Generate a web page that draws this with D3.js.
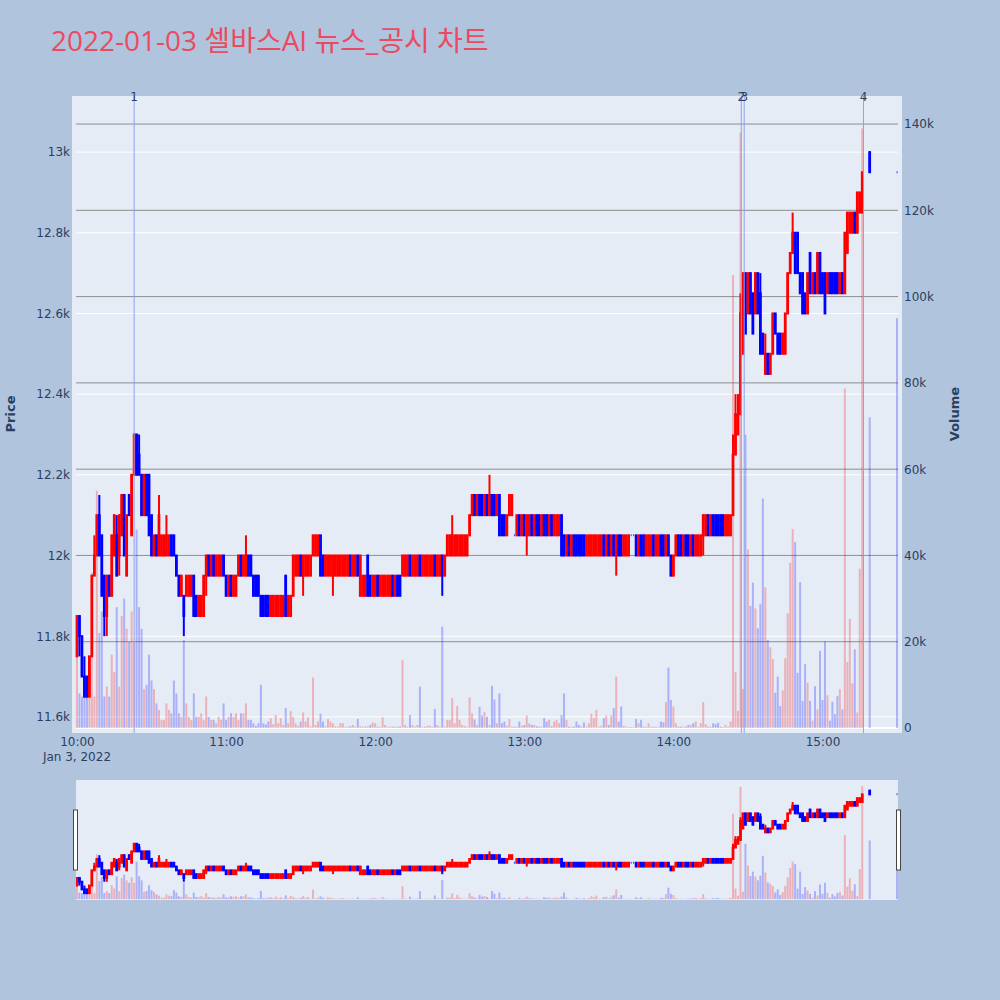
<!DOCTYPE html>
<html>
<head>
<meta charset="utf-8">
<script src="https://cdn.jsdelivr.net/npm/d3@7"></script>
<style>
  body { margin: 0; background: #B0C4DE; }
  svg { display: block; }
</style>
</head>
<body>
<svg id="chart" width="1000" height="1000"></svg>
<script>
// 1-minute candles, 2022-01-03
const times = [
"10:00","10:01","10:02","10:03","10:04","10:05","10:06","10:07","10:08","10:09",
"10:10","10:11","10:12","10:13","10:14","10:15","10:16","10:17","10:18","10:19",
"10:20","10:21","10:22","10:23","10:24","10:25","10:26","10:27","10:28","10:29",
"10:30","10:31","10:32","10:33","10:34","10:35","10:36","10:37","10:38","10:39",
"10:40","10:41","10:42","10:43","10:44","10:45","10:46","10:47","10:48","10:49",
"10:50","10:51","10:52","10:53","10:54","10:55","10:56","10:57","10:58","10:59",
"11:00","11:01","11:02","11:03","11:04","11:05","11:06","11:07","11:08","11:09",
"11:10","11:11","11:12","11:13","11:14","11:15","11:16","11:17","11:18","11:19",
"11:20","11:21","11:22","11:23","11:24","11:25","11:26","11:27","11:28","11:29",
"11:30","11:31","11:32","11:33","11:34","11:35","11:36","11:37","11:38","11:39",
"11:40","11:41","11:42","11:43","11:44","11:45","11:46","11:47","11:48","11:49",
"11:50","11:51","11:52","11:53","11:54","11:55","11:56","11:57","11:58","11:59",
"12:00","12:01","12:02","12:03","12:04","12:05","12:06","12:07","12:08","12:09",
"12:10","12:11","12:12","12:13","12:14","12:15","12:16","12:17","12:18","12:19",
"12:20","12:21","12:22","12:23","12:24","12:25","12:26","12:27","12:28","12:29",
"12:30","12:31","12:32","12:33","12:34","12:35","12:36","12:37","12:38","12:39",
"12:40","12:41","12:42","12:43","12:44","12:45","12:46","12:47","12:48","12:49",
"12:50","12:51","12:52","12:53","12:54","12:55","12:56","12:57","12:58","12:59",
"13:00","13:01","13:02","13:03","13:04","13:05","13:06","13:07","13:08","13:09",
"13:10","13:11","13:12","13:13","13:14","13:15","13:16","13:17","13:18","13:19",
"13:20","13:21","13:22","13:23","13:24","13:25","13:26","13:27","13:28","13:29",
"13:30","13:31","13:32","13:33","13:34","13:35","13:36","13:37","13:38","13:39",
"13:40","13:41","13:42","13:43","13:44","13:45","13:46","13:47","13:48","13:49",
"13:50","13:51","13:52","13:53","13:54","13:55","13:56","13:57","13:58","13:59",
"14:00","14:01","14:02","14:03","14:04","14:05","14:06","14:07","14:08","14:09",
"14:10","14:11","14:12","14:13","14:14","14:15","14:16","14:17","14:18","14:19",
"14:20","14:21","14:22","14:23","14:24","14:25","14:26","14:27","14:28","14:29",
"14:30","14:31","14:32","14:33","14:34","14:35","14:36","14:37","14:38","14:39",
"14:40","14:41","14:42","14:43","14:44","14:45","14:46","14:47","14:48","14:49",
"14:50","14:51","14:52","14:53","14:54","14:55","14:56","14:57","14:58","14:59",
"15:00","15:01","15:02","15:03","15:04","15:05","15:06","15:07","15:08","15:09",
"15:10","15:11","15:12","15:13","15:14","15:15","15:16","15:19","15:30"
];

const opens = [
11750,11850,11800,11700,11700,11650,11750,11950,12000,12100,
12050,11950,11850,11950,11900,12000,12050,12000,12050,12150,
11950,12150,12050,12200,12300,12250,12200,12100,12200,12200,
12100,12000,12050,12000,12000,12000,12000,12000,12050,12050,
12000,11950,11900,11900,11900,11900,11900,11950,11900,11850,
11850,11850,11950,12000,11950,12000,11950,11950,11950,12000,
11950,11900,11950,11900,11900,11950,12000,11950,11950,12000,
12000,11950,11950,11950,11900,11900,11900,11900,11850,11850,
11850,11850,11850,11850,11950,11850,11850,11900,11950,11950,
12000,11950,11950,11950,11950,12000,12000,12000,12050,12000,
11950,11950,11950,11950,11950,11950,11950,11950,11950,11950,
12000,11950,11950,12000,11900,11900,11900,12000,11950,11900,
11900,11950,11900,11900,11900,11900,11900,11950,11900,11950,
11950,11950,11950,11950,12000,11950,11950,11950,12000,11950,
11950,11950,11950,11950,12000,11950,11950,12000,11950,12000,
12000,12000,12000,12000,12000,12000,12000,12000,12050,12100,
12150,12100,12150,12150,12100,12150,12100,12150,12150,12100,
12150,12100,12100,12050,12100,12100,12050,12050,12100,12050,
12100,12050,12050,12100,12050,12100,12100,12050,12100,12100,
12050,12100,12050,12050,12050,12100,12050,12000,12050,12000,
12050,12050,12050,12050,12050,12000,12000,12000,12000,12000,
12000,12000,12050,12000,12050,12000,12050,12000,12050,12050,
12000,12000,12000,12050,12050,12050,12000,12050,12050,12000,
12000,12000,12050,12000,12000,12050,12050,12000,12050,12000,
11950,12000,12050,12050,12000,12050,12050,12000,12050,12000,
12000,12000,12050,12050,12100,12050,12100,12100,12100,12100,
12100,12050,12050,12050,12100,12250,12300,12350,12500,12700,
12600,12700,12650,12600,12700,12650,12550,12450,12500,12450,
12500,12600,12550,12550,12500,12500,12600,12700,12750,12800,
12800,12700,12700,12650,12600,12750,12650,12700,12650,12750,
12700,12700,12650,12700,12700,12700,12700,12650,12700,12650,
12750,12800,12800,12850,12800,12850,12850,13000,12950
];

const highs = [
11850,11850,11800,11750,11700,11750,11950,12050,12100,12150,
12050,11950,11950,11950,12050,12100,12100,12100,12150,12150,
12100,12150,12200,12300,12300,12300,12200,12200,12200,12200,
12100,12050,12050,12150,12050,12050,12100,12050,12050,12050,
12000,11950,11950,11900,11950,11950,11950,11950,11900,11900,
11900,11950,12000,12000,12000,12000,12000,12000,12000,12000,
11950,11950,11950,11950,11950,12000,12000,12000,12050,12000,
12000,11950,11950,11950,11900,11900,11900,11900,11900,11900,
11900,11900,11900,11900,11950,11900,11900,12000,12000,12000,
12000,12000,12000,12000,12000,12050,12050,12050,12050,12000,
12000,12000,12000,12000,12000,12000,12000,12000,12000,12000,
12000,12000,12000,12000,12000,11950,11950,12000,11950,11950,
11950,11950,11950,11950,11950,11950,11950,11950,11950,11950,
11950,12000,12000,12000,12000,12000,12000,12000,12000,12000,
12000,12000,12000,12000,12000,12000,12000,12000,12000,12050,
12050,12100,12050,12050,12050,12050,12050,12050,12100,12150,
12150,12150,12150,12150,12150,12150,12200,12150,12150,12150,
12150,12100,12100,12100,12150,12150,12050,12100,12100,12100,
12100,12100,12100,12100,12100,12100,12100,12100,12100,12100,
12100,12100,12100,12100,12100,12100,12050,12050,12050,12050,
12050,12050,12050,12050,12050,12050,12050,12050,12050,12050,
12050,12050,12050,12050,12050,12050,12050,12050,12050,12050,
12050,12050,12050,12050,12050,12050,12050,12050,12050,12050,
12050,12050,12050,12050,12050,12050,12050,12050,12050,12000,
12000,12050,12050,12050,12050,12050,12050,12050,12050,12050,
12050,12050,12100,12100,12100,12100,12100,12100,12100,12100,
12100,12100,12100,12100,12300,12400,12400,12650,12700,12700,
12700,12700,12650,12700,12700,12700,12550,12550,12500,12500,
12600,12600,12550,12550,12550,12600,12700,12750,12850,12800,
12800,12700,12700,12650,12700,12750,12700,12700,12750,12750,
12700,12700,12700,12700,12700,12700,12700,12700,12700,12800,
12850,12850,12850,12850,12900,12900,12950,13000,12950
];

const lows = [
11750,11750,11700,11650,11650,11650,11750,11950,12000,12000,
11900,11800,11800,11900,11900,12000,11950,11950,12050,12000,
11950,12100,12050,12200,12200,12200,12100,12100,12100,12050,
12000,12000,12000,12000,12000,12000,12000,12000,12000,12000,
11950,11900,11900,11800,11900,11900,11900,11850,11850,11850,
11850,11850,11900,11950,11950,11950,11950,11950,11950,11950,
11900,11900,11900,11900,11900,11950,11950,11950,11950,11950,
11950,11900,11900,11900,11850,11850,11850,11850,11850,11850,
11850,11850,11850,11850,11850,11850,11850,11900,11950,11950,
11950,11900,11950,11950,11950,12000,12000,12000,11950,11950,
11950,11950,11950,11900,11950,11950,11950,11950,11950,11950,
11950,11950,11950,11950,11900,11900,11900,11900,11900,11900,
11900,11900,11900,11900,11900,11900,11900,11900,11900,11900,
11900,11950,11950,11950,11950,11950,11950,11950,11950,11950,
11950,11950,11950,11950,11950,11950,11950,11900,11950,12000,
12000,12000,12000,12000,12000,12000,12000,12000,12050,12100,
12100,12100,12100,12100,12100,12100,12100,12100,12100,12100,
12050,12050,12050,12050,12100,12100,12050,12050,12050,12050,
12050,12000,12050,12050,12050,12050,12050,12050,12050,12050,
12050,12050,12050,12050,12050,12000,12000,12000,12000,12000,
12000,12000,12000,12000,12000,12000,12000,12000,12000,12000,
12000,12000,12000,12000,12000,12000,12000,11950,12000,12000,
12000,12000,12000,12050,12050,12000,12000,12000,12000,12000,
12000,12000,12000,12000,12000,12000,12000,12000,12000,11950,
11950,12000,12000,12000,12000,12000,12000,12000,12000,12000,
12000,12000,12000,12050,12050,12050,12050,12050,12050,12050,
12050,12050,12050,12050,12100,12250,12300,12350,12500,12550,
12600,12600,12550,12600,12600,12500,12500,12450,12450,12450,
12500,12550,12500,12500,12500,12500,12600,12700,12750,12700,
12700,12650,12600,12600,12600,12650,12650,12650,12650,12650,
12650,12600,12650,12650,12650,12650,12650,12650,12650,12650,
12750,12800,12800,12800,12800,12850,12850,12950,12950
];

const closes = [
11850,11800,11700,11650,11650,11750,11950,12000,12100,12000,
11900,11850,11950,11900,12050,12100,11950,12100,12150,12000,
12100,12100,12200,12300,12200,12200,12100,12200,12100,12050,
12000,12050,12000,12100,12050,12050,12050,12050,12000,12000,
11950,11900,11950,11850,11950,11950,11950,11850,11850,11900,
11900,11950,12000,11950,12000,11950,12000,12000,12000,11950,
11900,11950,11900,11950,11950,12000,11950,12000,12000,11950,
11950,11900,11900,11900,11850,11850,11850,11850,11900,11900,
11900,11900,11900,11900,11850,11900,11900,12000,12000,12000,
11950,12000,12000,12000,12000,12050,12050,12050,11950,11950,
12000,12000,12000,12000,12000,12000,12000,12000,12000,12000,
11950,12000,12000,11950,12000,11950,11950,11900,11900,11950,
11950,11900,11950,11950,11950,11950,11950,11900,11950,11900,
11900,12000,12000,12000,11950,12000,12000,12000,11950,12000,
12000,12000,12000,12000,11950,12000,12000,11950,12000,12050,
12050,12050,12050,12050,12050,12050,12050,12050,12100,12150,
12100,12150,12100,12100,12150,12100,12150,12100,12100,12150,
12050,12050,12050,12100,12150,12150,12050,12100,12050,12100,
12050,12100,12100,12050,12100,12050,12050,12100,12050,12050,
12100,12050,12100,12100,12100,12000,12000,12050,12000,12050,
12000,12000,12000,12000,12000,12050,12050,12050,12050,12050,
12050,12050,12000,12050,12000,12050,12000,12050,12000,12000,
12050,12050,12050,12050,12050,12000,12050,12000,12000,12050,
12050,12050,12000,12050,12050,12000,12000,12050,12000,11950,
12000,12050,12000,12000,12050,12000,12000,12050,12000,12050,
12050,12050,12100,12100,12050,12100,12050,12050,12050,12050,
12050,12100,12100,12100,12250,12350,12350,12600,12700,12550,
12700,12600,12550,12700,12600,12500,12500,12500,12450,12500,
12600,12550,12500,12500,12550,12600,12700,12750,12800,12700,
12700,12650,12600,12600,12700,12650,12700,12650,12750,12650,
12650,12600,12700,12650,12650,12650,12650,12700,12650,12800,
12850,12850,12850,12800,12900,12900,12950,12950,12950
];

const volumes = [
22000,8000,7300,8000,9600,8000,36000,7300,55000,22000,
27000,7300,9600,7300,17000,13000,28000,9600,26000,30000,
23000,20000,27000,20000,46000,28000,23000,9000,10000,17000,
11000,9000,5700,4200,1900,1900,5700,4200,3400,11000,
8000,3400,2600,20400,5700,2600,1900,8000,2600,2600,
3400,1900,7300,2600,1900,1900,1100,2600,1900,5700,
1900,2600,3400,2600,3400,1900,3400,3400,5700,1900,
1900,1100,500,1100,10000,1100,800,1500,2300,900,
3000,1100,2300,700,4600,1100,3900,2600,1100,500,
1500,3600,1500,2500,400,11700,700,1500,3300,1500,
400,2100,1500,1100,400,300,1100,1100,300,300,
400,700,300,2100,400,300,400,300,700,1300,
1100,300,300,2500,700,300,300,300,300,300,
300,15800,700,300,3000,700,300,700,9600,300,
300,500,500,300,4400,700,300,23500,300,1900,
1900,6900,1100,5100,1900,700,500,300,7100,3400,
2000,700,4900,2900,3700,2600,700,9800,6600,1100,
8000,1100,1500,500,2100,300,300,300,1500,500,
700,2900,1100,700,700,400,300,300,2300,1500,
1900,400,1500,1900,1100,3000,8000,1900,300,300,
300,1500,700,300,1300,300,1100,3300,2300,4200,
300,500,2300,2900,700,2900,4600,11900,1500,5000,
500,300,300,200,200,2100,1100,1900,300,300,
1100,300,300,300,300,1500,1300,6000,14000,6500,
5000,1100,300,300,300,300,700,700,1100,1500,
300,1100,6000,900,300,300,1100,900,1200,300,
200,700,300,1500,105000,13000,4000,138000,9000,68000,
41400,28300,33700,27700,23100,28700,53200,32600,20400,18700,
16000,8200,11900,5100,8700,16200,26600,38300,46100,43100,
12800,33800,6300,14800,10500,6300,1700,9700,4300,17900,
6500,20100,7600,1700,6100,3200,7400,9000,4300,78700,
15300,25300,10400,18200,3600,36900,139000,72000,95000
];

// news / disclosure markers
const newsTimes = ["10:23:00", "14:27:20", "14:28:30", "15:16:30"];
const newsLabels = ["1", "2", "3", "4"];

const priceTicks = [11600, 11800, 12000, 12200, 12400, 12600, 12800, 13000];
const volumeTicks = [0, 20000, 40000, 60000, 80000, 100000, 120000, 140000];
const timeTicks = ["10:00", "11:00", "12:00", "13:00", "14:00", "15:00"];

const FONT = "'DejaVu Sans', verdana, sans-serif";
const TXT = "#2a3f5f";
const UP = "#ff0000", DOWN = "#0000ff";

const parse = d3.timeParse("%Y-%m-%d %H:%M:%S");
const toDate = t => parse("2022-01-03 " + (t.length === 5 ? t + ":00" : t));

const candles = times.map((t, i) => ({
  t: toDate(t), o: opens[i], h: highs[i], l: lows[i], c: closes[i], v: volumes[i]
}));

const svg = d3.select("#chart");

// x range padded by two minutes each side, like plotly autorange
const x = d3.scaleTime()
  .domain([toDate("09:58"), toDate("15:32")])
  .range([72, 902]);
const step = x(toDate("10:01")) - x(toDate("10:00"));

const yPrice = d3.scaleLinear().domain([11560, 13139]).range([733, 96]);
const yVol = d3.scaleLinear().domain([-1160, 146500]).range([733, 96]);

// title
svg.append("text")
  .attr("x", 51).attr("y", 51)
  .style("font-family", "'Open Sans', 'Noto Sans CJK KR', sans-serif")
  .style("font-size", "28px")
  .attr("fill", "#EB4B5F")
  .text("2022-01-03 셀바스AI 뉴스_공시 차트");

// plot background
svg.append("rect")
  .attr("x", 72).attr("y", 96)
  .attr("width", 830).attr("height", 637)
  .attr("fill", "#E5ECF6");

// price grid (white) and volume grid (gray)
svg.append("g").selectAll("line")
  .data(priceTicks)
  .join("line")
  .attr("x1", 76).attr("x2", 898)
  .attr("y1", d => yPrice(d)).attr("y2", d => yPrice(d))
  .attr("stroke", "#ffffff").attr("stroke-width", 1);

svg.append("g").selectAll("line")
  .data(volumeTicks.filter(d => d > 0))
  .join("line")
  .attr("x1", 76).attr("x2", 898)
  .attr("y1", d => yVol(d)).attr("y2", d => yVol(d))
  .attr("stroke", "#8e8e8e").attr("stroke-width", 1);

svg.append("line")
  .attr("x1", 76).attr("x2", 898)
  .attr("y1", yVol(0)).attr("y2", yVol(0))
  .attr("stroke", "#ffffff").attr("stroke-width", 2);

// volume bars + candles, reused for the range slider
function drawTraces(g, yP, yV) {
  const barW = step * 0.8;
  g.append("g").selectAll("rect")
    .data(candles)
    .join("rect")
    .attr("x", d => x(d.t) - barW / 2)
    .attr("width", barW)
    .attr("y", d => yV(d.v))
    .attr("height", d => yV(0) - yV(d.v))
    .attr("fill", d => d.c > d.o ? UP : DOWN)
    .attr("fill-opacity", 0.25);

  const boxW = step * 0.3;
  const cg = g.append("g").selectAll("g")
    .data(candles)
    .join("g")
    .attr("stroke", d => d.c > d.o ? UP : DOWN)
    .attr("fill", d => d.c > d.o ? UP : DOWN)
    .attr("stroke-width", 2);

  cg.append("line")
    .attr("x1", d => x(d.t)).attr("x2", d => x(d.t))
    .attr("y1", d => yP(d.h)).attr("y2", d => yP(d.l));

  cg.append("path")
    .attr("d", d => {
      const x0 = x(d.t) - boxW / 2, x1 = x(d.t) + boxW / 2;
      const top = yP(Math.max(d.o, d.c)), bot = yP(Math.min(d.o, d.c));
      return `M${x0},${top}H${x1}V${bot}H${x0}Z`;
    });
}

drawTraces(svg.append("g"), yPrice, yVol);

// news markers
const news = svg.append("g");
news.selectAll("line")
  .data(newsTimes)
  .join("line")
  .attr("x1", d => x(toDate(d))).attr("x2", d => x(toDate(d)))
  .attr("y1", 96).attr("y2", 733)
  .attr("stroke", "#8ea2ef").attr("stroke-width", 1);
news.selectAll("text")
  .data(newsTimes)
  .join("text")
  .attr("x", d => x(toDate(d)))
  .attr("y", 101)
  .attr("text-anchor", "middle")
  .style("font-family", FONT).style("font-size", "12px")
  .attr("fill", TXT)
  .text((d, i) => newsLabels[i]);

// axes
const fmtK = d3.format("~s");
const leftAxis = svg.append("g")
  .attr("transform", "translate(72,0)")
  .call(d3.axisLeft(yPrice).tickValues(priceTicks).tickFormat(fmtK).tickSize(0).tickPadding(2));
const rightAxis = svg.append("g")
  .attr("transform", "translate(902,0)")
  .call(d3.axisRight(yVol).tickValues(volumeTicks).tickFormat(d => d === 0 ? "0" : fmtK(d)).tickSize(0).tickPadding(2));
const bottomAxis = svg.append("g")
  .attr("transform", "translate(0,733)")
  .call(d3.axisBottom(x).tickValues(timeTicks.map(toDate)).tickFormat(d3.timeFormat("%H:%M")).tickSize(0).tickPadding(4));

[leftAxis, rightAxis, bottomAxis].forEach(a => {
  a.select(".domain").remove();
  a.selectAll("text")
    .style("font-family", FONT)
    .style("font-size", "12px")
    .attr("fill", TXT);
});

svg.append("text")
  .attr("x", x(toDate("10:00"))).attr("y", 761)
  .attr("text-anchor", "middle")
  .style("font-family", FONT).style("font-size", "12px")
  .attr("fill", TXT)
  .text("Jan 3, 2022");

svg.append("text")
  .attr("transform", "translate(15,414) rotate(-90)")
  .attr("text-anchor", "middle")
  .style("font-family", FONT).style("font-size", "13px").style("font-weight", "bold")
  .attr("fill", TXT)
  .text("Price");

svg.append("text")
  .attr("transform", "translate(959,414) rotate(-90)")
  .attr("text-anchor", "middle")
  .style("font-family", FONT).style("font-size", "13px").style("font-weight", "bold")
  .attr("fill", TXT)
  .text("Volume");

// range slider
svg.append("defs").append("clipPath").attr("id", "sliderClip")
  .append("rect").attr("x", 76).attr("y", 780).attr("width", 822).attr("height", 120);

svg.append("rect")
  .attr("x", 76).attr("y", 780)
  .attr("width", 822).attr("height", 120)
  .attr("fill", "#E5ECF6");

const sliderP = yPrice.copy().range([900, 780]);
const sliderV = yVol.copy().range([900, 780]);
drawTraces(svg.append("g").attr("clip-path", "url(#sliderClip)"), sliderP, sliderV);

[73.5, 896.5].forEach(hx => {
  svg.append("rect")
    .attr("x", hx).attr("y", 810)
    .attr("width", 4).attr("height", 60)
    .attr("fill", "#ffffff")
    .attr("stroke", "#444444").attr("stroke-width", 1);
});
</script>
</body>
</html>
